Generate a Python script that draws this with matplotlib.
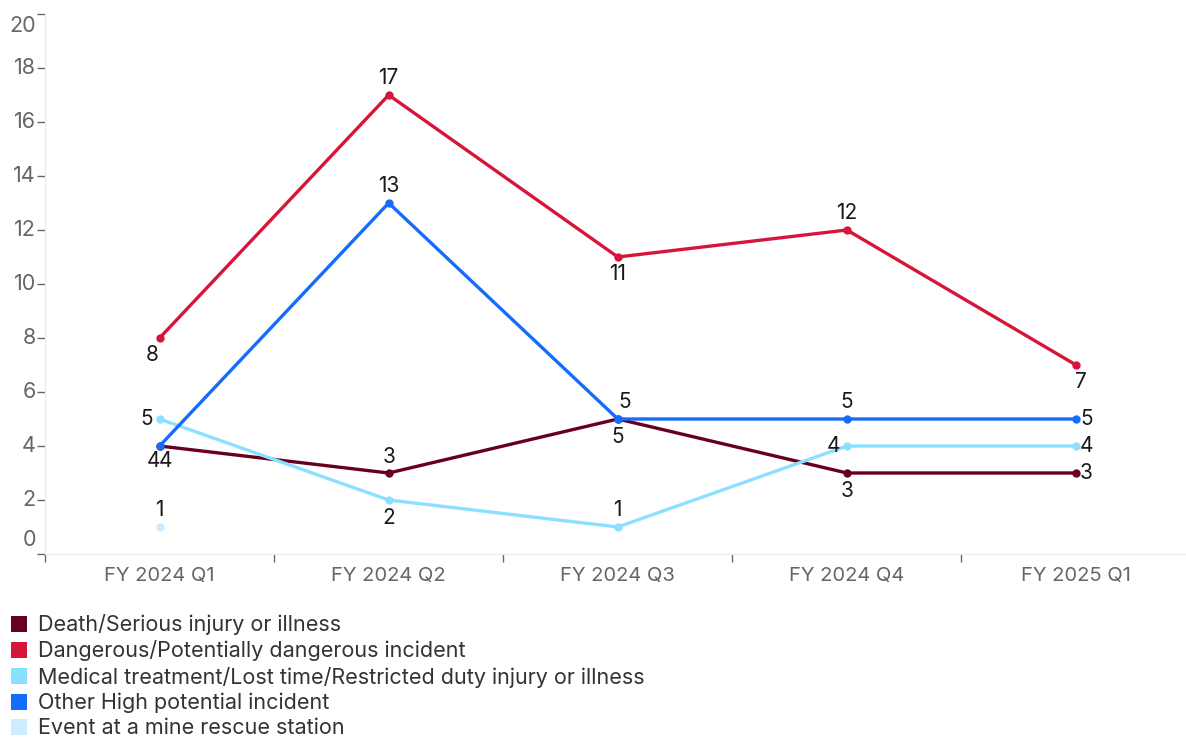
import numpy as np
import matplotlib.pyplot as plt
from matplotlib.patches import Patch
from matplotlib.transforms import offset_copy, blended_transform_factory

plt.rcParams['font.family'] = ['Inter', 'DejaVu Sans']

# data
quarters = ["FY 2024 Q1", "FY 2024 Q2", "FY 2024 Q3", "FY 2024 Q4", "FY 2025 Q1"]
death = [4, 3, 5, 3, 3]
dangerous = [8, 17, 11, 12, 7]
medical = [5, 2, 1, 4, 4]
other_high = [4, 13, 5, 5, 5]
rescue = [1, np.nan, np.nan, np.nan, np.nan]

series_names = ["Death/Serious injury or illness",
                "Dangerous/Potentially dangerous incident",
                "Medical treatment/Lost time/Restricted duty injury or illness",
                "Other High potential incident",
                "Event at a mine rescue station"]
colors = ["#67001f", "#d7153a", "#8ce0ff", "#146cfd", "#cbedfd"]

# label placement per point: (dx, dy) in pixels
label_pos = {
    0: [(-6, -15), (0, 16), (0, -18), (0, -18), (10, 0)],
    1: [(-7, -17), (0, 17), (0, -17), (0, 17), (5, -17)],
    2: [(-13, 0), (0, -18), (0, 17), (-13, 0), (10, 0)],
    3: [(6, -15), (0, 17), (7, 17), (0, 17), (10, 0)],
    4: [(0, 17), None, None, None, None],
}

fig = plt.figure(figsize=(11.86, 7.4), dpi=100)
ax = fig.add_axes([45 / 1186, 1 - 554 / 740, 1141 / 1186, 540 / 740])

x = np.arange(len(quarters))
all_series = [death, dangerous, medical, other_high, rescue]
for i, (vals, c) in enumerate(zip(all_series, colors)):
    ax.plot(x, vals, color=c, lw=2.4, marker='o', markersize=5, zorder=3)
    for j, v in enumerate(vals):
        if np.isnan(v) or label_pos[i][j] is None:
            continue
        dx, dy = label_pos[i][j]
        tr = offset_copy(ax.transData, fig=fig, x=dx * 0.72, y=dy * 0.72, units='points')
        ha = 'center'
        if dx >= 10:
            ha = 'left'
            tr = offset_copy(ax.transData, fig=fig, x=(dx - 6) * 0.72, y=dy * 0.72, units='points')
        elif dx <= -13:
            ha = 'right'
            tr = offset_copy(ax.transData, fig=fig, x=(dx + 6) * 0.72, y=dy * 0.72, units='points')
        ax.text(j, v, f"{int(v)}", transform=tr, ha=ha, va='center',
                fontsize=15, color='#1a1a1a', zorder=4)

ax.set_xlim(-0.5, 4.48)
ax.set_ylim(0, 20)

ax.spines['top'].set_visible(False)
ax.spines['right'].set_visible(False)
ax.spines['left'].set_color('#ebebeb')
ax.spines['bottom'].set_color('#ebebeb')

# x axis: labels at categories, ticks at boundaries
ax.set_xticks(x)
ax.set_xticklabels(quarters, fontsize=14.5, color='#666666')
ax.tick_params(axis='x', length=0, pad=9)
ax.set_xticks(np.arange(-0.5, 4.5, 1), minor=True)
ax.tick_params(axis='x', which='minor', length=6, color='#666666', width=1)

# y axis ticks drawn with custom labels
yt = np.arange(0, 21, 2)
ax.set_yticks(yt)
ax.set_yticklabels([])
ax.tick_params(axis='y', length=6, color='#666666', width=1)
ytr = blended_transform_factory(ax.transAxes, ax.transData)
for v in yt:
    dy = 0
    if v == 0:
        dy = 14
    elif v == 20:
        dy = -12
    tr = offset_copy(ytr, fig=fig, x=-9 * 0.72, y=dy * 0.72, units='points')
    ax.text(0, v, str(v), transform=tr, ha='right', va='center',
            fontsize=15.5, color='#666666')

handles = [Patch(facecolor=c, edgecolor='none') for c in colors]
fig.legend(handles, series_names, loc='upper left', bbox_to_anchor=(0.009, 0.170),
           frameon=False, fontsize=15.5, handlelength=0.75, handleheight=0.75,
           handletextpad=0.5, labelspacing=0.24, borderaxespad=0, borderpad=0,
           labelcolor='#333333')

fig.savefig("out.png", dpi=100)
